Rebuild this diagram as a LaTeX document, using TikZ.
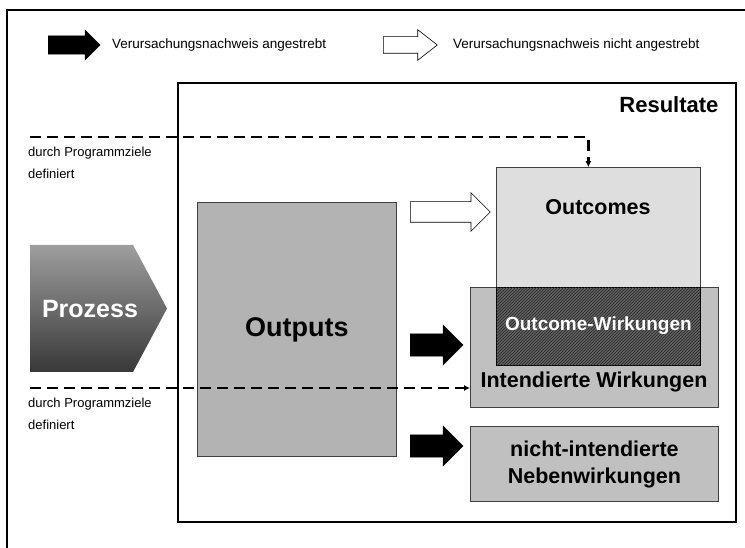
\documentclass[tikz,border=0pt]{standalone}
\usepackage{fontspec}
\setmainfont{Liberation Sans}
\usetikzlibrary{shapes.arrows,patterns,arrows.meta}

\definecolor{outputgray}{HTML}{B3B3B3}
\definecolor{outcomegray}{HTML}{DEDEDE}
\definecolor{effectgray}{HTML}{C0C0C0}

\tikzset{
    legtxt/.style={font=\fontsize{13.5}{16}\selectfont, anchor=west, inner sep=0pt},
    notetxt/.style={font=\fontsize{13}{22}\selectfont, align=left, anchor=north west, inner sep=0pt},
    boldtxt/.style={font=\fontsize{21.5}{27}\selectfont\bfseries, align=center, inner sep=0pt},
    resbox/.style={draw=black!75, line width=0.8pt, inner sep=0pt, anchor=south west},
    fullarrow/.style={single arrow, fill=black, draw=black, inner xsep=0pt, inner ysep=11pt, anchor=west,
        minimum height=#1, single arrow head extend=9pt},
    hollowarrow/.style={single arrow, fill=white, draw=black, line width=0.6pt, inner xsep=0pt, inner ysep=10pt, anchor=west,
        minimum height=#1, single arrow head extend=9pt},
    dashline/.style={line width=2.2pt, dash pattern=on 11pt off 6pt, -{Latex[length=6pt,width=6pt]}}
}

\begin{document}
\begin{tikzpicture}[x=1pt,y=1pt]
    \useasboundingbox (0,0) rectangle (745,548);

    % frame and legend
    \draw[line width=1.5pt] (7,0) -- (7,538) -- (745,538);
    \node (legfull) [fullarrow=52pt, inner ysep=9pt, single arrow head extend=6pt] at (48,503) {};
    \node (legfulltxt) [legtxt] at (112,503) {Verursachungsnachweis angestrebt};
    \node (leghollow) [hollowarrow=54pt, inner ysep=8pt, single arrow head extend=7pt, single arrow tip angle=76] at (383,503) {};
    \node (leghollowtxt) [legtxt] at (453,503) {Verursachungsnachweis nicht angestrebt};

    % results frame
    \draw[line width=2pt] (178,26) rectangle (736,465);
    \node (restxt) [anchor=east, font=\fontsize{22}{26}\selectfont\bfseries] at (722,443) {Resultate};

    % process and outputs
    \shade[top color=black!38, bottom color=black!78] (30,176) -- (133,176) -- (167,239.5) -- (133,303) -- (30,303) -- cycle;
    \node (prozess) [text=white, font=\fontsize{25}{30}\selectfont\bfseries] at (90,239) {Prozess};
    \node (outputs) [resbox, fill=outputgray, minimum width=199pt, minimum height=254pt] at (197,91) {};
    \node (outputstxt) [boldtxt, font=\fontsize{27}{30}\selectfont\bfseries] at (outputs.center) {Outputs};

    % results
    \node (intend) [resbox, fill=effectgray, minimum width=248pt, minimum height=120pt] at (470,140) {};
    \node (outcomes) [resbox, fill=outcomegray, minimum width=204pt, minimum height=198pt] at (496,182) {};
    \node (owirk) [resbox, draw=black, fill=black!62, postaction={pattern=north east lines, pattern color=black!85},
        minimum width=204pt, minimum height=78pt] at (496,182) {};
    \node (nicht) [resbox, fill=effectgray, minimum width=248pt, minimum height=75pt] at (470,46) {};

    \node (outcomestxt) [boldtxt] at (598,341) {Outcomes};
    \node (owirktxt) [boldtxt, text=white, font=\fontsize{19}{24}\selectfont\bfseries] at ([yshift=1pt]owirk.center) {Outcome-Wirkungen};
    \node (intendtxt) [boldtxt] at (594,166) {Intendierte Wirkungen};
    \node (nichttxt) [boldtxt] at (nicht.center) {nicht-intendierte\\Nebenwirkungen};

    % block arrows
    \node (arrout) [hollowarrow=80pt] at (410,336) {};
    \node (arrint) [fullarrow=53pt] at (410,203) {};
    \node (arrneb) [fullarrow=53pt] at (410,102) {};

    % programme goals
    \coordinate (goaltop) at (30,411);
    \coordinate (goalbot) at (30,160);
    \draw[dashline] (goaltop) -| ([xshift=-10pt]outcomes.north);
    \draw[dashline] (goalbot) -- (goalbot -| intend.west);
    \node (goaltoptxt) [notetxt] at (28,401) {durch Programmziele\\definiert};
    \node (goalbottxt) [notetxt] at (28,150) {durch Programmziele\\definiert};

\end{tikzpicture}
\end{document}
